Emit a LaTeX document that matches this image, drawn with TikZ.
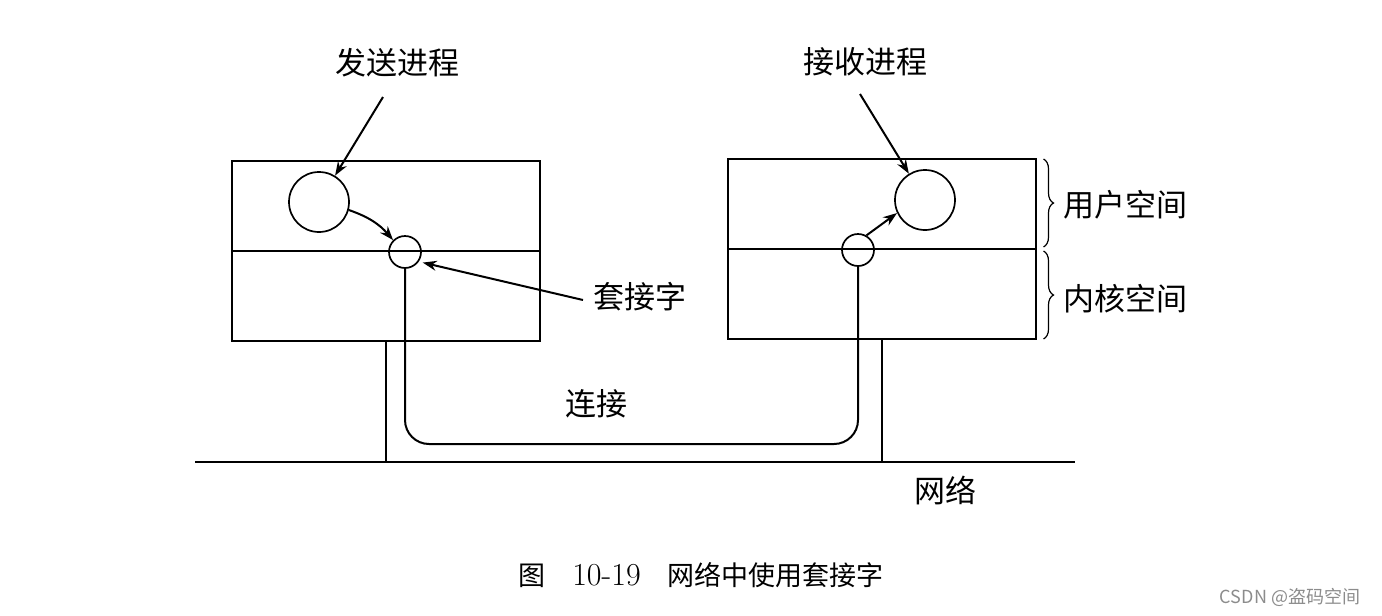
\documentclass[tikz,border=0pt]{standalone}
\usepackage{fontspec}
\newfontfamily\cjk{Noto Sans CJK SC}
\usetikzlibrary{positioning, arrows.meta, decorations.pathreplacing}
\tikzstyle{space} = [rectangle,
minimum width=154pt,
minimum height=45pt,
outer sep=0pt,
draw=black, line width=1pt]
\tikzstyle{proc} = [circle,
minimum size=30pt, inner sep=0pt,
draw=black, line width=0.85pt]
\tikzstyle{sock} = [circle,
minimum size=16pt, inner sep=0pt,
draw=black, line width=0.85pt]
\tikzstyle{lbl} = [inner sep=0pt,
font=\cjk\fontsize{15.5}{18}\selectfont]
\tikzstyle{wire} = [line width=1pt]
\tikzstyle{arrow} = [line width=1pt,-{Stealth[length=7pt,width=5pt]}]
\tikzstyle{spacebrace} = [line width=0.6pt, decorate, decoration={brace, amplitude=5pt}]

\begin{document}
\begin{tikzpicture}[x=0.5pt, y=-0.5pt]
    \useasboundingbox (0,0) rectangle (1382,616);

    % two hosts, user part above kernel part
    \node (user1) [space] at (386,206) {};
    \node (kern1) [space, below=0pt of user1] {};
    \node (user2) [space] at (881.5,204) {};
    \node (kern2) [space, below=0pt of user2] {};

    \node (proc1) [proc] at (319,202) {};
    \node (sock1) [sock] at (405,252) {};
    \node (proc2) [proc] at (925,200) {};
    \node (sock2) [sock] at (858,250) {};

    \node (send) [lbl] at (397,63) {发送进程};
    \node (recv) [lbl] at (865,62) {接收进程};
    \node (socklbl) [lbl] at (640,297) {套接字};
    \node (link) [lbl] at (596,404) {连接};
    \node (netlbl) [lbl] at (945,490) {网络};
    \node (userlbl) [lbl] at (1125,205) {用户空间};
    \node (kernlbl) [lbl] at (1125,299) {内核空间};

    \node (cap) [font=\fontsize{13.5}{16}\selectfont] at (701,575) {{\cjk 图}\quad {\fontsize{16}{16}\selectfont 10-19}\quad {\cjk 网络中使用套接字}};
    \node (wm) [font=\cjk\fontsize{9}{11}\selectfont, text=black!45] at (1290,597) {CSDN @盗码空间};

    \coordinate (netl) at (195,462);
    \coordinate (netr) at (1075,462);
    \coordinate (linkbot) at (630,444);
    \coordinate (sendtail) at (383,97);
    \coordinate (recvtail) at (860,94);
    \coordinate (socktail) at (583,300);

    % network and legs
    \draw [wire] (netl) -- (netr);
    \draw [wire] (kern1.south) -- (kern1.south |- netl);
    \draw [wire] (kern2.south) -- (kern2.south |- netl);

    % connection
    \draw [wire, rounded corners=12pt] (sock1.south) |- (sock2.south |- linkbot) -- (sock2.south);

    \draw [arrow] (sendtail) -- (proc1);
    \draw [arrow] (recvtail) -- (proc2);
    \draw [arrow, shorten >=2pt] (socktail) -- (sock1.-35);
    \draw [arrow] (proc1.-15) to [bend left=15] (sock1.135);
    \draw [arrow] (sock2.60) -- (proc2.205);

    \draw [spacebrace] ([xshift=4pt]user2.north east) -- ([xshift=4pt, yshift=1pt]user2.south east);
    \draw [spacebrace] ([xshift=4pt, yshift=-1pt]kern2.north east) -- ([xshift=4pt]kern2.south east);
\end{tikzpicture}
\end{document}
